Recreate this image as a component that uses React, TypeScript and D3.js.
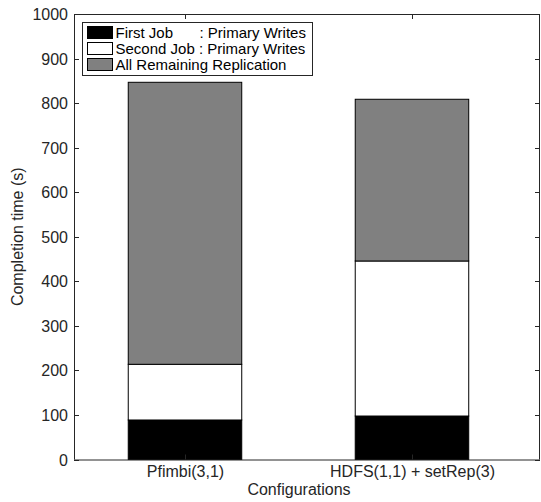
import React from 'react';
import * as d3 from 'd3';

const W = 541;
const H = 502;
const M = { top: 14, right: 1, bottom: 42.5, left: 74 };

const categories = ['Pfimbi(3,1)', 'HDFS(1,1) + setRep(3)'];
const firstJob = [88.7, 97.6];
const secondJob = [125, 348];
const remaining = [633, 363];

const seriesNames = ['First Job', 'Second Job : Primary Writes', 'All Remaining Replication'];
const seriesColors = ['#000000', '#ffffff', '#808080'];
const yTicks = [0, 100, 200, 300, 400, 500, 600, 700, 800, 900, 1000];

const AXIS = '#262626';
const FONT = '"Liberation Sans", Arial, Helvetica, sans-serif';

export default function App() {
  const innerW = W - M.left - M.right;
  const innerH = H - M.top - M.bottom;

  // bar positions 1 and 2 on a numeric axis like the original
  const x = d3.scaleLinear().domain([0.511, 2.564]).range([0, innerW]);
  const y = d3.scaleLinear().domain([0, 1000]).range([innerH, 0]);
  const barW = x(1.5) - x(1);

  const stack = d3.stack<any>().keys(['a', 'b', 'c'])(
    categories.map((c, i) => ({ a: firstJob[i], b: secondJob[i], c: remaining[i] }))
  );

  return (
    <div style={{ position: 'absolute', left: 0, top: 0 }}>
      <svg width={W} height={H} style={{ display: 'block', background: '#fff' }} fontFamily={FONT}>
        <g transform={`translate(${M.left},${M.top})`}>
          {stack.map((layer, li) =>
            layer.map((d, i) => (
              <rect
                key={`${li}-${i}`}
                x={x(i + 1) - barW / 2}
                y={y(d[1])}
                width={barW}
                height={y(d[0]) - y(d[1])}
                fill={seriesColors[li]}
                stroke="#000"
                strokeWidth={1}
              />
            ))
          )}

          {/* axes box */}
          <line x1={0} x2={innerW} y1={innerH + 0.5} y2={innerH + 0.5} stroke={AXIS} />
          <line x1={0} x2={innerW} y1={0.5} y2={0.5} stroke={AXIS} />
          <line x1={0.5} x2={0.5} y1={0} y2={innerH} stroke={AXIS} />
          <line x1={innerW - 0.5} x2={innerW - 0.5} y1={0} y2={innerH} stroke={AXIS} />

          {yTicks.map(t => (
            <g key={t} transform={`translate(0,${Math.round(y(t)) + 0.5})`}>
              <line x1={0} x2={5} stroke={AXIS} />
              <line x1={innerW - 5} x2={innerW} stroke={AXIS} />
              <text x={-6} dy="0.35em" textAnchor="end" fontSize={16} fill={AXIS}>{t}</text>
            </g>
          ))}

          {categories.map((c, i) => (
            <g key={c} transform={`translate(${Math.round(x(i + 1)) + 0.5},0)`}>
              <line y1={innerH} y2={innerH - 5} stroke={AXIS} />
              <line y1={0} y2={5} stroke={AXIS} />
              <text y={innerH + 17} textAnchor="middle" fontSize={16} fill={AXIS}>{c}</text>
            </g>
          ))}

          <text x={innerW / 2 - 8} y={innerH + 35} textAnchor="middle" fontSize={16} fill={AXIS}>
            Configurations
          </text>
          <text
            transform={`translate(${-51},${innerH / 2}) rotate(-90)`}
            textAnchor="middle"
            fontSize={16}
            fill={AXIS}
          >
            Completion time (s)
          </text>

          {/* legend */}
          <g transform="translate(8.5,8.5)">
            <rect width={230} height={53} fill="#fff" stroke={AXIS} />
            {seriesNames.map((s, i) => (
              <g key={s} transform={`translate(5,${4 + i * 16})`}>
                <rect width={25} height={12} fill={seriesColors[i]} stroke="#000" />
                <text x={28} y={11.5} fontSize={15} fill="#000">{s}</text>
                {i === 0 && <text x={112} y={11.5} fontSize={15} fill="#000">: Primary Writes</text>}
              </g>
            ))}
          </g>
        </g>
      </svg>
    </div>
  );
}
